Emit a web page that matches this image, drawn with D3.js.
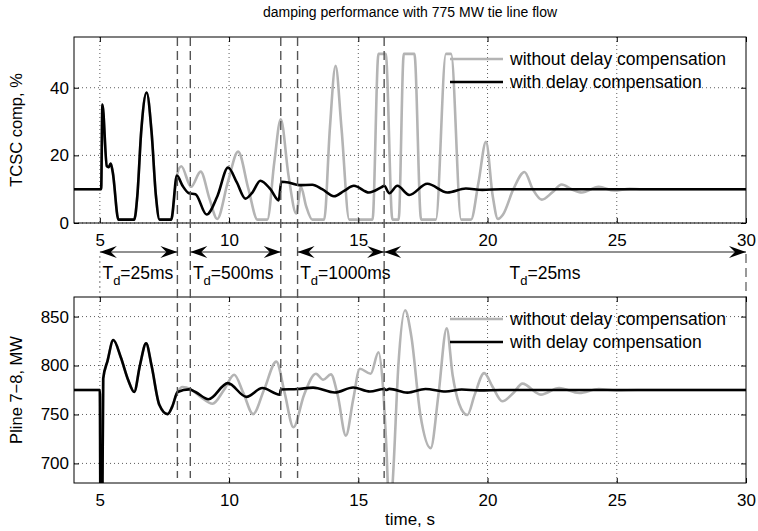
<!DOCTYPE html>
<html>
<head>
<meta charset="utf-8">
<script src="https://cdn.jsdelivr.net/npm/d3@7"></script>
<style>
  body { margin: 0; background: #fff; }
  svg { font-family: "Liberation Sans", Arial, sans-serif; }
</style>
</head>
<body>
<div id="chart"></div>
<script>
// TCSC compensation, %  (top panel)
var tTcscWith = [4, 5.0, 5.05, 5.1, 5.27, 5.34, 5.42, 5.5, 5.72, 6.33, 6.45, 6.6, 6.81, 7.0, 7.17, 7.31, 7.76, 7.98, 8.2, 8.45, 8.7, 9.13, 9.55, 9.96, 10.3, 10.63, 10.9, 11.21, 11.6, 11.92, 12.02, 12.3, 12.71, 13.22, 13.6, 14.06, 14.45, 14.83, 15.41, 15.9, 16.0, 16.2, 16.51, 16.97, 17.67, 18.45, 19.16, 19.8, 20.5, 30];
var tcscWith  = [10, 10, 10, 35, 16.8, 16.5, 17.6, 15, 1, 1, 8, 27, 38.6, 27, 8, 1, 1, 14, 11, 8.8, 8.5, 2.5, 8, 16.4, 12, 7.2, 9, 12.5, 10, 6.7, 12.2, 12, 11.2, 11.3, 10, 7.9, 9.5, 11, 9, 10.6, 11, 8.8, 11, 8.3, 11.6, 9, 10.2, 9.8, 10, 10];

var tTcscWithout = [4, 5.0, 5.05, 5.1, 5.27, 5.34, 5.42, 5.5, 5.72, 6.33, 6.45, 6.6, 6.81, 7.0, 7.17, 7.31, 7.76, 7.98, 8.15, 8.53, 8.9, 9.25, 9.54, 9.95, 10.35, 10.75, 11.1, 11.48, 11.75, 12.0, 12.3, 12.6, 12.78, 12.98, 13.22, 13.68, 13.9, 14.12, 14.35, 14.65, 15.55, 15.78, 16.06, 16.32, 16.56, 16.76, 17.17, 17.43, 18.0, 18.39, 18.59, 18.98, 19.36, 19.65, 19.94, 20.2, 20.4, 20.6, 21.0, 21.43, 21.75, 22.1, 22.5, 22.87, 23.25, 23.65, 24.3, 24.9, 25.5, 26, 30];
var tcscWithout  = [10, 10, 10, 35, 16.8, 16.5, 17.6, 15, 1, 1, 8, 27, 38.6, 27, 8, 1, 1, 14, 16.8, 10.7, 15.2, 7, 1.2, 12, 21.1, 10, 1, 1, 18, 30.7, 14, 2.8, 10.7, 5, 1, 1, 28, 46.5, 28, 1, 1, 50, 50, 1, 1, 50, 50, 1, 1, 50, 50, 1, 1, 12, 24, 8, 1.2, 2.5, 10, 15.1, 10, 6.9, 9, 11.4, 10, 9, 10.7, 9.6, 10.1, 10, 10];

// Pline 7-8, MW  (bottom panel)
var tPWith = [4, 5.0, 5.03, 5.08, 5.13, 5.3, 5.52, 5.81, 6.1, 6.33, 6.55, 6.79, 7.0, 7.3, 7.62, 7.8, 8.01, 8.46, 8.7, 9.21, 9.95, 10.67, 11.29, 11.96, 12.0, 12.65, 13.25, 14.09, 14.8, 15.45, 16.0, 16.1, 16.2, 16.9, 17.6, 18.38, 19.0, 19.7, 20.5, 30];
var pWith  = [775, 775, 600, 600, 786.6, 805, 826, 808.5, 785, 773, 800, 822.6, 800, 760, 750.4, 758, 773, 775.6, 773, 765.6, 782, 768, 777, 770.3, 775.5, 776, 777.4, 772.4, 777.5, 773.5, 776, 775, 776.2, 772.3, 776, 773.5, 775.5, 774.6, 775, 775];

var tPWithout = [4, 5.0, 5.03, 5.08, 5.13, 5.3, 5.52, 5.81, 6.1, 6.33, 6.55, 6.79, 7.0, 7.3, 7.62, 7.8, 8.01, 8.2, 8.5, 8.9, 9.36, 9.8, 10.2, 10.55, 10.93, 11.35, 11.83, 12.15, 12.49, 12.9, 13.36, 13.64, 13.94, 14.2, 14.52, 14.8, 15.06, 15.48, 15.78, 15.95, 16.08, 16.22, 16.35, 16.55, 16.81, 17.05, 17.4, 17.8, 18.1, 18.42, 18.65, 18.9, 19.22, 19.5, 19.87, 20.2, 20.57, 21.0, 21.35, 22.06, 22.77, 23.55, 24.3, 25, 25.8, 30];
var pWithout  = [775, 775, 600, 600, 786.6, 805, 826, 808.5, 785, 773, 800, 822.6, 800, 760, 750.4, 758, 773, 778, 776, 768, 761, 775, 790.6, 772, 750.4, 775, 804, 772, 737, 770, 791.6, 785.5, 791, 770, 728.4, 765, 796.7, 791.6, 813.5, 780, 720, 640, 690, 800, 856.5, 830, 750, 715.6, 770, 838, 790, 761, 749.4, 770, 792.2, 778, 763.5, 772, 781.5, 770.3, 777, 772, 776, 774.5, 775, 775];

var xTicks = [5, 10, 15, 20, 25, 30];
var yTicksTop = [0, 20, 40];
var yTicksBot = [700, 750, 800, 850];

// delay regions
var delayLines = [8, 8.5, 12, 12.65, 16];
var segStart = [5, 8.5, 12.65, 16];
var segEnd = [8, 12, 16, 30];
var segLabel = ["=25ms", "=500ms", "=1000ms", "=25ms"];
var segLabelT = [5.1, 8.6, 12.75, 20.85];

var legendNames = ["without delay compensation", "with delay compensation"];
var grayCol = "#b4b4b4";

var W = 758, H = 531;
var svg = d3.select("#chart").append("svg").attr("width", W).attr("height", H);

var x = d3.scaleLinear().domain([4, 30]).range([74, 746]);
var yTop = d3.scaleLinear().domain([0, 55]).range([223, 37]);
var yBot = d3.scaleLinear().domain([680, 870]).range([483, 297]);

svg.append("text")
    .attr("x", 410).attr("y", 17)
    .attr("text-anchor", "middle")
    .style("font-size", "14px")
    .text("damping performance with 775 MW tie line flow");

function panel(y, yTicks, tA, vA, tB, vB, ylabel, id, legY) {
    var top = y.range()[1], bot = y.range()[0];
    var g = svg.append("g");

    g.append("clipPath").attr("id", id)
        .append("rect").attr("x", 74).attr("y", top).attr("width", 672).attr("height", bot - top);

    // grid
    g.selectAll(".gx").data(xTicks.slice(0, -1)).enter().append("line")
        .attr("x1", d => x(d)).attr("x2", d => x(d))
        .attr("y1", top).attr("y2", bot)
        .attr("stroke", "#333").attr("stroke-width", 0.8).attr("stroke-dasharray", "1,3");
    g.selectAll(".gy").data(yTicks).enter().append("line")
        .attr("x1", 74).attr("x2", 746)
        .attr("y1", d => y(d)).attr("y2", d => y(d))
        .attr("stroke", "#333").attr("stroke-width", 0.8).attr("stroke-dasharray", "1,3");

    var line = d3.line().curve(d3.curveMonotoneX);
    var cg = g.append("g").attr("clip-path", "url(#" + id + ")");
    cg.append("path")
        .attr("d", line(tB.map((t, i) => [x(t), y(vB[i])])))
        .attr("fill", "none").attr("stroke", grayCol).attr("stroke-width", 2.6);
    cg.append("path")
        .attr("d", line(tA.map((t, i) => [x(t), y(vA[i])])))
        .attr("fill", "none").attr("stroke", "#000").attr("stroke-width", 2.6);

    // axes, ticks inside
    g.append("g").attr("transform", "translate(0," + bot + ")")
        .call(d3.axisBottom(x).tickValues(xTicks).tickSize(-5).tickPadding(11).tickFormat(d3.format("d")))
        .call(a => a.select(".domain").remove())
        .call(a => a.selectAll("text").style("font-size", "17px").attr("fill", "#000"));
    g.append("g").attr("transform", "translate(0," + top + ")")
        .call(d3.axisTop(x).tickValues(xTicks).tickSize(-5).tickFormat(""))
        .call(a => a.select(".domain").remove());
    g.append("g").attr("transform", "translate(74,0)")
        .call(d3.axisLeft(y).tickValues(yTicks).tickSize(-5).tickPadding(5))
        .call(a => a.select(".domain").remove())
        .call(a => a.selectAll("text").style("font-size", "17px").attr("fill", "#000"));
    g.append("g").attr("transform", "translate(746,0)")
        .call(d3.axisRight(y).tickValues(yTicks).tickSize(-5).tickFormat(""))
        .call(a => a.select(".domain").remove());

    g.append("rect").attr("x", 74).attr("y", top).attr("width", 672).attr("height", bot - top)
        .attr("fill", "none").attr("stroke", "#000").attr("stroke-width", 1);

    g.append("text")
        .attr("transform", "translate(22," + ((top + bot) / 2) + ") rotate(-90)")
        .attr("text-anchor", "middle")
        .style("font-size", "16.5px")
        .text(ylabel);

    // legend
    [grayCol, "#000"].forEach(function(c, i) {
        var ly = legY + i * 23;
        g.append("line").attr("x1", 450).attr("x2", 503).attr("y1", ly).attr("y2", ly)
            .attr("stroke", c).attr("stroke-width", 2.6);
        g.append("text").attr("x", 510).attr("y", ly + 6)
            .style("font-size", "17.5px").text(legendNames[i]);
    });
}

panel(yTop, yTicksTop, tTcscWith, tcscWith, tTcscWithout, tcscWithout, "TCSC comp, %", "clipTop", 59);
panel(yBot, yTicksBot, tPWith, pWith, tPWithout, pWithout, "Pline 7\u22128, MW", "clipBot", 319);

// delay boundaries
svg.selectAll(".dl").data(delayLines).enter().append("line")
    .attr("x1", d => x(d)).attr("x2", d => x(d))
    .attr("y1", 37).attr("y2", 478)
    .attr("stroke", "#555").attr("stroke-width", 1.4).attr("stroke-dasharray", "9,5");
svg.append("line")
    .attr("x1", x(30)).attr("x2", x(30)).attr("y1", 254).attr("y2", 297)
    .attr("stroke", "#555").attr("stroke-width", 1.2).attr("stroke-dasharray", "9,5");
svg.append("line")
    .attr("x1", x(5)).attr("x2", x(5)).attr("y1", 256).attr("y2", 297)
    .attr("stroke", "#555").attr("stroke-width", 0.8).attr("stroke-dasharray", "2,3");

// double arrows
var ay = 252;
function head(px, dir) {
    var L = 17, Wd = 6, N = 11;
    return "M" + px + "," + ay +
        "L" + (px - dir * L) + "," + (ay - Wd) +
        "L" + (px - dir * N) + "," + ay +
        "L" + (px - dir * L) + "," + (ay + Wd) + "Z";
}
segStart.forEach(function(s, i) {
    var x0 = x(s), x1 = x(segEnd[i]);
    svg.append("line").attr("x1", x0).attr("x2", x1).attr("y1", ay).attr("y2", ay)
        .attr("stroke", "#222").attr("stroke-width", 1);
    svg.append("path").attr("d", head(x0, -1)).attr("fill", "#000");
    svg.append("path").attr("d", head(x1, 1)).attr("fill", "#000");

    var t = svg.append("text").attr("x", x(segLabelT[i])).attr("y", 279).style("font-size", "17.5px");
    t.append("tspan").text("T");
    t.append("tspan").attr("dy", 6).style("font-size", "13px").text("d");
    t.append("tspan").attr("dy", -6).text(segLabel[i]);
});

svg.append("text")
    .attr("x", 410).attr("y", 525)
    .attr("text-anchor", "middle")
    .style("font-size", "17px")
    .text("time, s");
</script>
</body>
</html>
